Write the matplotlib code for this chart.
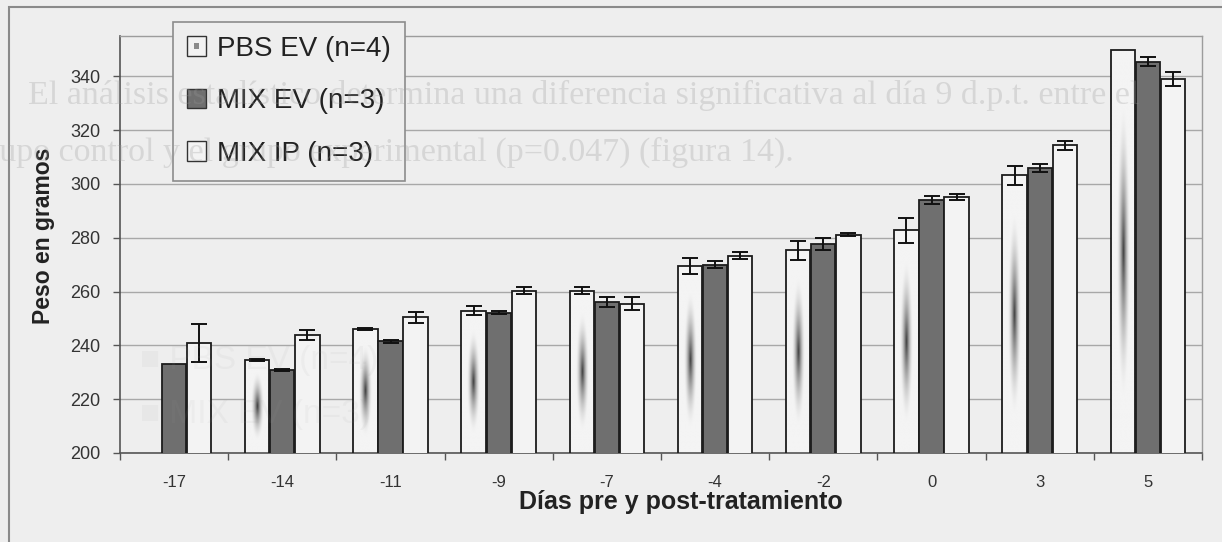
import numpy as np
import matplotlib

matplotlib.use("Agg")
import matplotlib.pyplot as plt
from matplotlib.colors import LinearSegmentedColormap
from matplotlib.legend_handler import HandlerBase
from matplotlib.patches import Patch, Rectangle

# peso medio (g) por grupo y día respecto al tratamiento
days = ["-17", "-14", "-11", "-9", "-7", "-4", "-2", "0", "3", "5"]
pbs_ev = [np.nan, 234.6, 246.2, 252.9, 260.3, 269.4, 275.3, 282.8, 303.2, 349.7]
pbs_ev_err = [np.nan, 0.3, 0.3, 1.7, 1.3, 3.0, 3.4, 4.7, 3.4, np.nan]
mix_ev = [233.1, 230.9, 241.5, 252.2, 256.0, 270.0, 277.7, 294.0, 306.1, 345.5]
mix_ev_err = [np.nan, 0.5, 0.5, 0.5, 1.9, 1.2, 2.3, 1.4, 1.5, 1.7]
mix_ip = [240.8, 243.9, 250.4, 260.3, 255.5, 273.4, 281.1, 295.1, 314.3, 338.9]
mix_ip_err = [7.0, 1.9, 1.9, 1.3, 2.5, 1.4, 0.5, 1.2, 1.8, 2.6]
series_labels = ["PBS EV (n=4)", "MIX EV (n=3)", "MIX IP (n=3)"]

BG = "#eeeeee"
EDGE = "#1c1c1c"
MIX_EV_FACE = "#6f6f6f"
MIX_IP_FACE = "#f3f3f3"
PBS_CMAP = LinearSegmentedColormap.from_list("pbs", ["#f4f4f4", "#3a3a3a"])

plt.rcParams["font.family"] = ["Liberation Sans", "DejaVu Sans"]

fig = plt.figure(figsize=(12.22, 5.42), dpi=100, facecolor=BG)
ax = fig.add_axes([120 / 1222, 1 - 453 / 542, 1082 / 1222, 417 / 542])
ax.set_facecolor("none")

x = np.arange(len(days))
w = 0.225
step = 0.232

ymin, ymax = 200, 355

bar_kw = dict(width=w, edgecolor=EDGE, linewidth=1.3, zorder=3)
pbs_bars = ax.bar(x - step, pbs_ev, facecolor="none", **bar_kw)
ax.bar(x, mix_ev, facecolor=MIX_EV_FACE, **bar_kw)
ax.bar(x + step, mix_ip, facecolor=MIX_IP_FACE, **bar_kw)

# relleno degradado desde el centro para las barras PBS
for patch in pbs_bars:
    top = patch.get_y() + patch.get_height()
    if not np.isfinite(top):
        continue
    x0, bw = patch.get_x(), patch.get_width()
    xs = np.linspace(-1, 1, 60)
    ys = np.linspace(-1, 1, 240)
    X, Y = np.meshgrid(xs, ys)
    r = np.sqrt((X / 0.55) ** 2 + (Y / 0.75) ** 2)
    shade = np.clip(1 - r, 0, 1) ** 1.8
    im = ax.imshow(shade, extent=(x0, x0 + bw, ymin, top), origin="lower",
                   aspect="auto", cmap=PBS_CMAP, vmin=0, vmax=1,
                   interpolation="bilinear", zorder=2)
    im.set_clip_path(patch)

err_kw = dict(fmt="none", ecolor="#111111", elinewidth=1.4, capsize=5.5,
              capthick=1.4, zorder=4)
ax.errorbar(x - step, pbs_ev, yerr=pbs_ev_err, **err_kw)
ax.errorbar(x, mix_ev, yerr=mix_ev_err, **err_kw)
ax.errorbar(x + step, mix_ip, yerr=mix_ip_err, **err_kw)

ax.set_xlim(-0.5, len(days) - 0.5)
ax.set_ylim(ymin, ymax)

ax.set_yticks(np.arange(200, 341, 20))
ax.tick_params(axis="y", length=5, width=1, color="#555555", pad=9,
               labelsize=13, labelcolor="#333333")
ax.set_xticks(x, days)
ax.tick_params(axis="x", which="major", length=0, pad=16, labelsize=12,
               labelcolor="#333333")
ax.set_xticks(np.arange(-0.5, len(days)), minor=True)
ax.tick_params(axis="x", which="minor", length=5, width=1, color="#555555",
               direction="out")

ax.yaxis.grid(True, color="#a8a8a8", linewidth=1)
ax.set_axisbelow(True)
for side in ("left", "bottom"):
    ax.spines[side].set_color("#555555")
    ax.spines[side].set_linewidth(1.2)
for side in ("top", "right"):
    ax.spines[side].set_color("#9c9c9c")
    ax.spines[side].set_linewidth(1)

ax.set_ylabel("Peso en gramos", fontsize=16.5, fontweight="bold", color="#222222")
ax.yaxis.set_label_coords(-0.060, 0.52)
ax.set_xlabel("Días pre y post-tratamiento", fontsize=18, fontweight="bold",
              color="#222222")
ax.xaxis.set_label_coords(0.518, -0.088)


class CenterShadeHandler(HandlerBase):
    def create_artists(self, legend, orig_handle, xdescent, ydescent,
                       width, height, fontsize, trans):
        outer = Rectangle((-xdescent, -ydescent), width, height,
                          facecolor="#f2f2f2", edgecolor="#333333",
                          linewidth=1, transform=trans)
        inner = Rectangle((-xdescent + width * 0.36, -ydescent + height * 0.36),
                          width * 0.28, height * 0.28, facecolor="#8a8a8a",
                          edgecolor="none", transform=trans)
        return [outer, inner]


pbs_handle = Patch(facecolor="#f2f2f2", edgecolor="#333333")
handles = [
    pbs_handle,
    Patch(facecolor=MIX_EV_FACE, edgecolor="#333333"),
    Patch(facecolor=MIX_IP_FACE, edgecolor="#333333"),
]
leg = ax.legend(handles, series_labels, loc="upper left",
                bbox_to_anchor=(173 / 1222, 1 - 22 / 542),
                bbox_transform=fig.transFigure, borderaxespad=0,
                fontsize=20, handlelength=0.7, handleheight=0.7,
                handletextpad=0.4, labelspacing=0.95, borderpad=0.5,
                fancybox=False, framealpha=1, facecolor=BG,
                edgecolor="#8c8c8c", labelcolor="#222222",
                handler_map={pbs_handle: CenterShadeHandler()})
leg.get_frame().set_linewidth(1.2)
leg.set_zorder(6)

# marco exterior del gráfico
fig.add_artist(Rectangle((9 / 1222, -0.05), 1.2, 1 - 7 / 542 + 0.05,
                         transform=fig.transFigure, facecolor="none",
                         edgecolor="#8a8a8a", linewidth=1.5, zorder=1))

# texto de la página que transparenta a través del papel
ghost = dict(family=["Liberation Serif", "DejaVu Serif"], fontsize=24.5,
             color="#9a9a9a", alpha=0.28, zorder=10, va="center")
fig.text(28 / 1222, 1 - 95 / 542,
         "El análisis estadístico determina una diferencia significativa "
         "al día 9 d.p.t. entre el", **ghost)
fig.text(-29 / 1222, 1 - 152 / 542,
         "grupo control y el grupo experimental (p=0.047) (figura 14).", **ghost)
faint = dict(fontsize=24, color="#9a9a9a", alpha=0.08, zorder=10, va="center")
fig.text(140 / 1222, 1 - 360 / 542, "■ PBS EV (n=4)", **faint)
fig.text(140 / 1222, 1 - 415 / 542, "■ MIX EV (n=3)", **faint)

fig.savefig("out.png", dpi=100, facecolor=BG)
